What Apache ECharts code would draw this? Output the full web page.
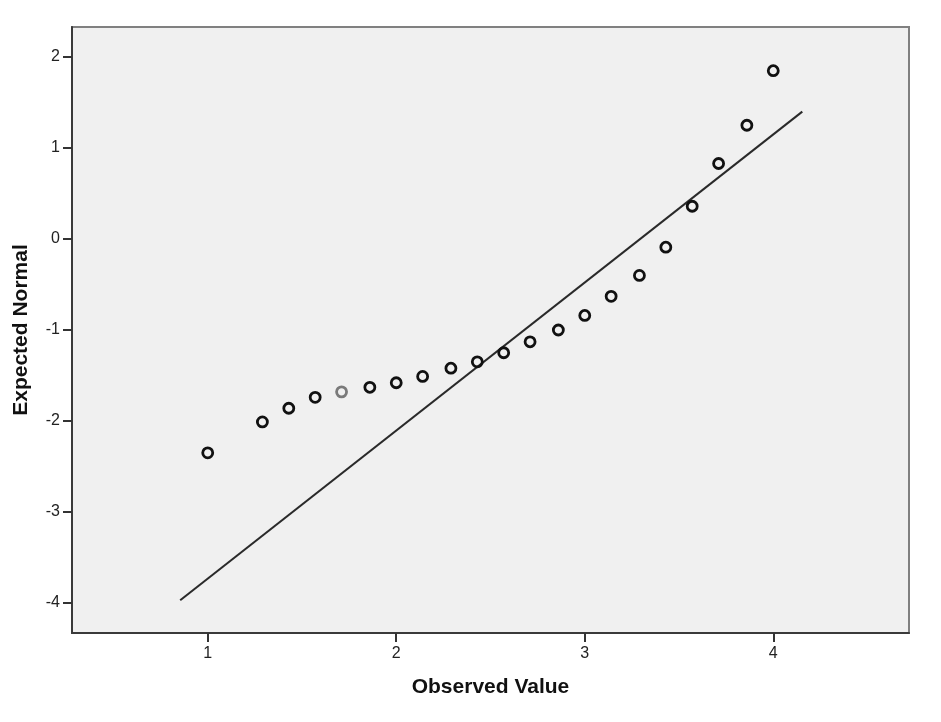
<!DOCTYPE html>
<html>
	<head>
		<meta charset="UTF-8">
		<title>Normal Q-Q Plot</title>
		<script src="https://cdn.jsdelivr.net/npm/echarts@6/dist/echarts.min.js"></script>
		<style>
			html, body { margin: 0; padding: 0; background: #fff; }
			#chart { width: 941px; height: 722px; }
		</style>
	</head>
	<body>
		<div id="chart"></div>
		<script>
			// observed values (x) and expected normal values (y)
			var observed = [1, 1.29, 1.43, 1.57, 1.71, 1.86, 2, 2.14, 2.29, 2.43, 2.57,
				2.71, 2.86, 3, 3.14, 3.29, 3.43, 3.57, 3.71, 3.86, 4];
			var expected = [-2.35, -2.01, -1.86, -1.74, -1.68, -1.63, -1.58, -1.51, -1.42, -1.35, -1.25,
				-1.13, -1.00, -0.84, -0.63, -0.40, -0.09, 0.36, 0.83, 1.25, 1.85];
			// reference line end points
			var lineX = [0.854, 4.154];
			var lineY = [-3.97, 1.40];
			// tick labels
			var xTicks = [1, 2, 3, 4];
			var yTicks = [-4, -3, -2, -1, 0, 1, 2];

			var points = [];
			for (var i = 0; i < observed.length; i++) {
				points.push([observed[i], expected[i]]);
			}
			// the point at 1.71 is drawn lighter in the original
			points[4] = { value: points[4], itemStyle: { borderColor: '#7a7a7a' } };

			var linePts = [];
			for (var j = 0; j < lineX.length; j++) {
				linePts.push([lineX[j], lineY[j]]);
			}

			var myChart = echarts.init(document.getElementById('chart'));

			var option = {
				animation: false,
				grid: {
					left: 72,
					right: 32,
					top: 27,
					bottom: 89,
					show: true,
					backgroundColor: '#f0f0f0',
					borderColor: '#808080',
					borderWidth: 2
				},
				xAxis: {
					type: 'value',
					min: 0.28,
					max: 4.72,
					name: 'Observed Value',
					nameLocation: 'middle',
					nameGap: 44,
					nameTextStyle: { fontFamily: 'Liberation Sans', fontSize: 21, fontWeight: 'bold', color: '#111' },
					axisLine: { show: true, onZero: false, lineStyle: { color: '#3a3a3a', width: 2 } },
					axisTick: { show: true, length: 9, customValues: xTicks, lineStyle: { color: '#333', width: 2 } },
					axisLabel: { customValues: xTicks, margin: 13, fontFamily: 'Liberation Sans', fontSize: 16, color: '#222' },
					splitLine: { show: false }
				},
				yAxis: {
					type: 'value',
					min: -4.33,
					max: 2.33,
					name: 'Expected Normal',
					nameLocation: 'middle',
					nameGap: 40,
					nameTextStyle: { fontFamily: 'Liberation Sans', fontSize: 21, fontWeight: 'bold', color: '#111' },
					axisLine: { show: true, onZero: false, lineStyle: { color: '#3a3a3a', width: 2 } },
					axisTick: { show: true, length: 9, customValues: yTicks, lineStyle: { color: '#333', width: 2 } },
					axisLabel: { customValues: yTicks, margin: 12, fontFamily: 'Liberation Sans', fontSize: 16, color: '#222' },
					splitLine: { show: false }
				},
				series: [{
					name: 'Reference',
					type: 'line',
					data: linePts,
					symbol: 'none',
					lineStyle: { color: '#2a2a2a', width: 2 },
					z: 2
				}, {
					name: 'Observed',
					type: 'scatter',
					data: points,
					symbol: 'circle',
					symbolSize: 10,
					itemStyle: { color: 'rgba(0,0,0,0)', borderColor: '#111', borderWidth: 2.8, opacity: 1 },
					z: 3
				}]
			};

			myChart.setOption(option);
		</script>
	</body>
</html>
